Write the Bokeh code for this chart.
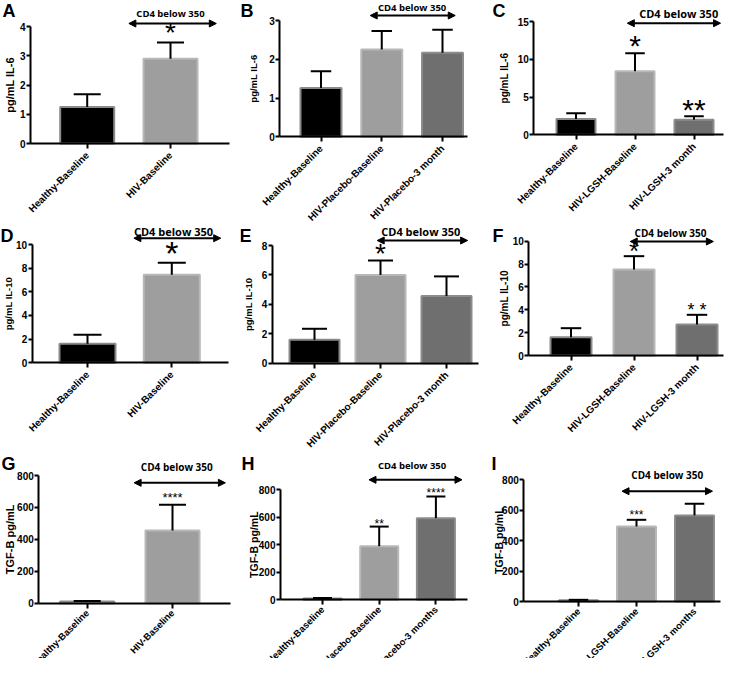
import math
import numpy as np
from bokeh.plotting import figure
from bokeh.layouts import row, column
from bokeh.models import Range1d, FixedTicker, Label, Arrow, NormalHead, ColumnDataSource
from bokeh.embed import file_html
from bokeh.resources import INLINE

# ---------------- data ----------------
groups_two = ["Healthy-Baseline", "HIV-Baseline"]
groups_placebo = ["Healthy-Baseline", "HIV-Placebo-Baseline", "HIV-Placebo-3 month"]
groups_lgsh = ["Healthy-Baseline", "HIV-LGSH-Baseline", "HIV-LGSH-3 month"]
groups_placebo_m = ["Healthy-Baseline", "HIV-Placebo-Baseline", "HIV-Placebo-3 months"]
groups_lgsh_m = ["Healthy-Baseline", "HIV-LGSH-Baseline", "HIV-LGSH-3 months"]

il6_a_mean = [1.25, 2.90]
il6_a_err = [0.43, 0.55]
il6_b_mean = [1.26, 2.25, 2.17]
il6_b_err = [0.43, 0.48, 0.59]
il6_c_mean = [2.10, 8.43, 2.00]
il6_c_err = [0.75, 2.37, 0.46]

il10_d_mean = [1.62, 7.44]
il10_d_err = [0.75, 1.01]
il10_e_mean = [1.59, 6.00, 4.56]
il10_e_err = [0.75, 0.98, 1.34]
il10_f_mean = [1.60, 7.52, 2.71]
il10_f_err = [0.79, 1.17, 0.85]

tgfb_g_mean = [10, 455]
tgfb_g_err = [3, 161]
tgfb_h_mean = [10, 389, 592]
tgfb_h_err = [3, 142, 157]
tgfb_i_mean = [8, 493, 566]
tgfb_i_err = [3, 44, 76]

ticks_a = [0, 1, 2, 3, 4]
ticks_b = [0, 1, 2, 3]
ticks_c = [0, 5, 10, 15]
ticks_d = [0, 2, 4, 6, 8, 10]
ticks_e = [0, 2, 4, 6, 8]
ticks_f = [0, 2, 4, 6, 8, 10]
ticks_tgf = [0, 200, 400, 600, 800]

# significance marks: (bar index, text, value level)
marks_a = [(1, "*", 3.86)]
marks_b = []
marks_c = [(1, "*", 12.0), (2, "**", 3.58)]
marks_d = [(1, "*", 9.4)]
marks_e = [(1, "*", 7.6)]
marks_f = [(1, "*", 9.33), (2, "* *", 4.2)]
marks_g = [(1, "****", 683)]
marks_h = [(1, "**", 570), (2, "****", 797)]
marks_i = [(1, "***", 592)]

CD4_TEXT = "CD4 below 350"

# ---------------- style / layout ----------------
FILL = ["#000000", "#9e9e9e", "#6f6f6f"]
EDGE = ["#8a8a8a", "#b8b8b8", "#8c8c8c"]
AXF = "Liberation Sans"
CD4F = "Open Sans"


def panel(letter, groups, mean, err, ylabel, ticks, marks, geo):
    fx, fy, fw, fh = geo["fig"]
    L, R, B = geo["frame"]
    ytop, c0, s, bw = geo["ytop"], geo["c0"], geo["s"], geo["bw"]
    ymax = ticks[-1]
    k = (B - ytop) / ymax

    def X(px):
        return (px - c0) / s

    def Y(py):
        return (B - py) / k

    p = figure(width=fw, height=fh, x_range=Range1d(X(fx), X(fx + fw)),
               y_range=Range1d(Y(fy + fh), Y(fy)),
               toolbar_location=None, output_backend="svg", title=None,
               min_border_left=0, min_border_right=0, min_border_top=0, min_border_bottom=0)
    p.outline_line_color = None
    p.xgrid.visible = False
    p.ygrid.visible = False
    p.background_fill_color = "white"
    p.border_fill_color = "white"

    n = len(groups)
    idx = np.arange(n, dtype=float)
    m = np.array(mean, dtype=float)
    e = np.array(err, dtype=float)
    w = bw / s
    src = ColumnDataSource(dict(x=idx, top=m, up=m + e, fill=FILL[:n], edge=EDGE[:n],
                                cl=idx - w * 0.25, cr=idx + w * 0.25))
    p.vbar(x="x", top="top", bottom=0, width=w, fill_color="fill", line_color="edge",
           line_width=2, source=src)
    p.segment(x0="x", y0="top", x1="x", y1="up", line_color="black", line_width=2, source=src)
    p.segment(x0="cl", y0="up", x1="cr", y1="up", line_color="black", line_width=2, source=src)

    # y axis
    ya = p.yaxis[0]
    ya.fixed_location = X(L)
    ya.ticker = FixedTicker(ticks=ticks)
    ya.bounds = (0, ymax)
    ya.axis_line_width = 2
    ya.major_tick_line_width = 2
    ya.major_tick_out = 4
    ya.major_tick_in = 0
    ya.minor_tick_out = 0
    ya.minor_tick_in = 0
    ya.major_label_standoff = 1
    ya.major_label_text_font = AXF
    ya.major_label_text_font_style = "bold"
    ya.major_label_text_font_size = "10px"
    ya.major_label_text_color = "black"

    # x axis with the group names as tick labels
    xa = p.xaxis[0]
    xa.fixed_location = 0
    xa.ticker = FixedTicker(ticks=list(idx))
    xa.major_label_overrides = {float(i): g for i, g in enumerate(groups)}
    xa.major_label_orientation = math.pi / 4
    xa.bounds = (X(L), X(R))
    xa.axis_line_width = 2
    xa.major_tick_line_width = 2
    xa.major_tick_out = 5
    xa.major_tick_in = 0
    xa.minor_tick_out = 0
    xa.minor_tick_in = 0
    xa.major_label_standoff = geo["xso"]
    xa.major_label_text_font = AXF
    xa.major_label_text_font_style = "bold"
    xa.major_label_text_font_size = geo["xfs"]
    xa.major_label_text_color = "black"

    # y axis title
    ax_cx, ax_fs = geo["ylab"]
    p.add_layout(Label(x=X(ax_cx), y=Y((B + ytop) / 2.0), text=ylabel, angle=90, angle_units="deg",
                       text_align="center", text_baseline="middle", text_font=AXF,
                       text_font_style="bold", text_font_size=f"{ax_fs}px", text_color="black"))

    # panel letter (geo gives the cap top; em top is ~3.5px higher)
    lx, ly = geo["letter"]
    p.add_layout(Label(x=X(lx), y=Y(max(ly - 3.5, fy)), text=letter, text_align="left",
                       text_baseline="top", text_font=AXF, text_font_style="bold",
                       text_font_size="18px", text_color="black"))

    # CD4 bracket
    a0, a1, apy, tx, tpy, tfs = geo["cd4"]
    p.add_layout(Arrow(x_start=a0, y_start=Y(apy), x_end=a1, y_end=Y(apy), line_width=2,
                       line_color="black",
                       start=NormalHead(size=7, fill_color="black", line_color="black"),
                       end=NormalHead(size=7, fill_color="black", line_color="black")))
    p.add_layout(Label(x=tx, y=Y(tpy), text=CD4_TEXT, text_align="center", text_baseline="middle",
                       text_font=CD4F, text_font_style="bold", text_font_size=f"{tfs}px",
                       text_color="black"))

    # significance stars
    for (bi, txt, lvl), fs in zip(marks, geo["markfs"]):
        cpx = B - lvl * k
        off = 4.3 - 0.094 * fs
        p.add_layout(Label(x=bi, y=Y(cpx + off), text=txt, text_align="center",
                           text_baseline="alphabetic", text_font=AXF, text_font_size=f"{fs}px",
                           text_color="black"))
    return p


geoA = dict(fig=(0, 0, 240, 225), frame=(30, 229, 143), ytop=26, c0=86.7, s=83.3, bw=54,
            ylab=(9.5, 11), letter=(2, 4), cd4=(0.50, 1.55, 23, 1.0, 13, 9.5), markfs=[28],
            xfs="10px", xso=5)
geoB = dict(fig=(240, 0, 250, 225), frame=(279.3, 466.7, 136.3), ytop=20, c0=320.5, s=60.75, bw=41,
            ylab=(253, 9.5), letter=(240, 3), cd4=(0.81, 2.21, 15, 1.5, 7, 9.5), markfs=[],
            xfs="10px", xso=5)
geoC = dict(fig=(490, 0, 235, 225), frame=(533.3, 723, 134.3), ytop=21, c0=575.5, s=59, bw=39,
            ylab=(504, 10), letter=(492, 3), cd4=(0.87, 2.45, 22.7, 1.74, 12.7, 11), markfs=[30, 30],
            xfs="10px", xso=5)
geoD = dict(fig=(0, 225, 240, 225), frame=(31.7, 228.3, 362.3), ytop=244, c0=87, s=84.3, bw=56,
            ylab=(7.5, 9.5), letter=(0, 228.5), cd4=(0.55, 1.58, 237.7, 1.02, 231, 11), markfs=[34],
            xfs="10px", xso=5)
geoE = dict(fig=(240, 225, 250, 225), frame=(271.7, 478.3, 362.7), ytop=245, c0=314, s=66, bw=50,
            ylab=(248, 9.5), letter=(239, 228.5), cd4=(0.95, 2.32, 240, 1.61, 231, 11), markfs=[28],
            xfs="10px", xso=5)
geoF = dict(fig=(490, 225, 235, 225), frame=(528.3, 723, 355), ytop=240.7, c0=570.5, s=63, bw=41,
            ylab=(504, 10), letter=(492, 228.5), cd4=(0.94, 2.26, 241, 1.58, 232, 10), markfs=[26, 18],
            xfs="10px", xso=5)
geoG = dict(fig=(0, 450, 240, 208), frame=(38.3, 230, 602.7), ytop=475, c0=86.7, s=85.3, bw=54,
            ylab=(9.5, 11), letter=(1, 457), cd4=(0.55, 1.62, 482.3, 1.05, 466, 10), markfs=[13],
            xfs="9.5px", xso=3)
geoH = dict(fig=(240, 450, 250, 208), frame=(280, 466.7, 599.3), ytop=489, c0=322, s=56.7, bw=38,
            ylab=(253, 10.5), letter=(241, 457), cd4=(0.82, 2.46, 479.3, 1.58, 465, 9.5),
            markfs=[12, 12], xfs="9.5px", xso=3)
geoI = dict(fig=(490, 450, 235, 208), frame=(523.3, 720, 601), ytop=479.3, c0=578, s=58, bw=39,
            ylab=(498.5, 10.5), letter=(491, 457), cd4=(0.75, 2.31, 490.7, 1.53, 474, 10), markfs=[12],
            xfs="9.5px", xso=3)

pA = panel("A", groups_two, il6_a_mean, il6_a_err, "pg/mL IL-6", ticks_a, marks_a, geoA)
pB = panel("B", groups_placebo, il6_b_mean, il6_b_err, "pg/mL IL-6", ticks_b, marks_b, geoB)
pC = panel("C", groups_lgsh, il6_c_mean, il6_c_err, "pg/mL IL-6", ticks_c, marks_c, geoC)
pD = panel("D", groups_two, il10_d_mean, il10_d_err, "pg/mL IL-10", ticks_d, marks_d, geoD)
pE = panel("E", groups_placebo, il10_e_mean, il10_e_err, "pg/mL IL-10", ticks_e, marks_e, geoE)
pF = panel("F", groups_lgsh, il10_f_mean, il10_f_err, "pg/mL IL-10", ticks_f, marks_f, geoF)
pG = panel("G", groups_two, tgfb_g_mean, tgfb_g_err, "TGF-B pg/mL", ticks_tgf, marks_g, geoG)
pH = panel("H", groups_placebo_m, tgfb_h_mean, tgfb_h_err, "TGF-B pg/mL", ticks_tgf, marks_h, geoH)
pI = panel("I", groups_lgsh_m, tgfb_i_mean, tgfb_i_err, "TGF-B pg/mL", ticks_tgf, marks_i, geoI)

root = column(row(pA, pB, pC), row(pD, pE, pF), row(pG, pH, pI))

open("out.html", "w").write(file_html(root, INLINE))
